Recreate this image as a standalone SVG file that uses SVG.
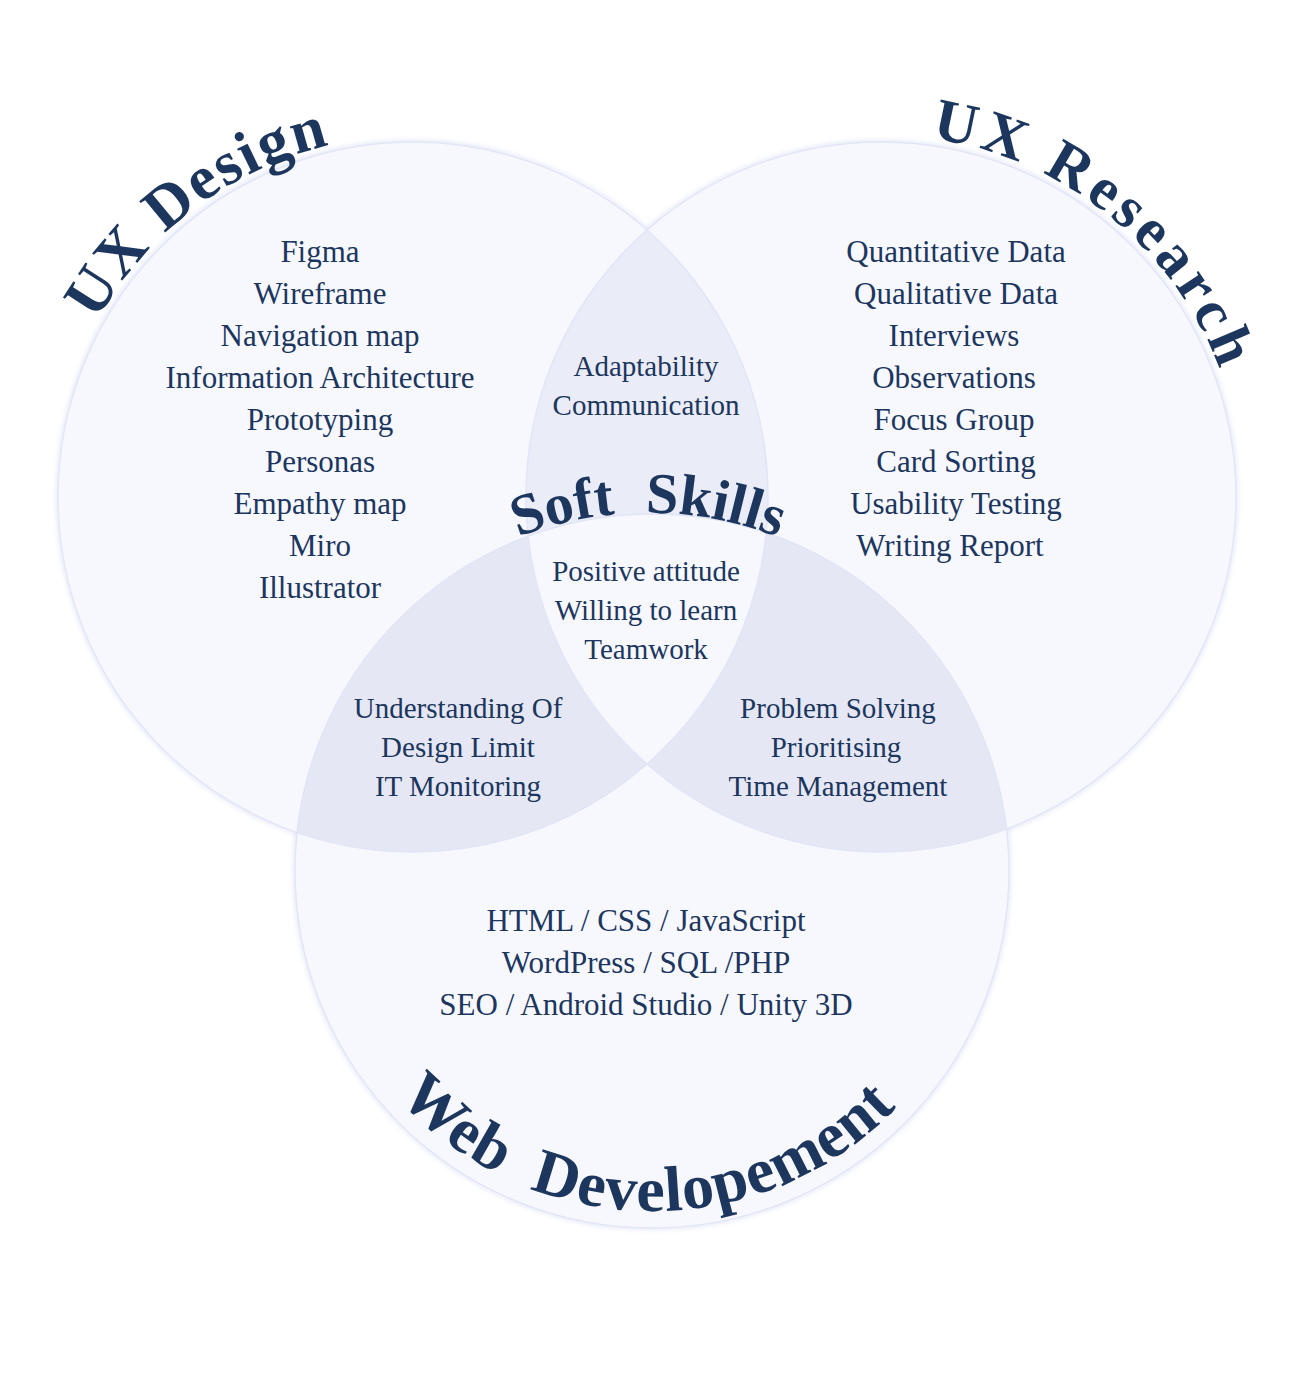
<svg xmlns="http://www.w3.org/2000/svg" width="1290" height="1384" viewBox="0 0 1290 1384">
  <defs>
    <filter id="glow" x="-10%" y="-10%" width="120%" height="120%">
      <feGaussianBlur stdDeviation="2.5"/>
    </filter>
    <path id="arcDesign" d="M 90.5 661.3 A 362 362 0 0 1 659.9 232.3"/>
    <path id="arcResearch" d="M 643.5 223.8 A 362 362 0 0 1 1197.6 672.5"/>
    <path id="arcWeb" d="M 316.2 924.2 A 340 340 0 0 0 985.8 935.9"/>
    <path id="arcSoft" d="M 295.4 808.8 A 358 358 0 0 1 1000.6 808.8"/>
  </defs>
  <style>
    .bg { fill: #f7f8fe; }
    .edge { fill: none; stroke: #c9d2f0; stroke-width: 3; }
    .line { fill: none; stroke: #e0e4f5; stroke-width: 1.5; }
    .lensTop { fill: #eaecf8; }
    .lensLow { fill: #e5e8f4; }
    .title { font-family: "Liberation Serif", "Times New Roman", serif; font-weight: bold; fill: #1c365e; }
    .item { font-family: "Liberation Serif", "Times New Roman", serif; font-size: 31px; fill: #1c365e; text-anchor: middle; }
    .small { font-family: "Liberation Serif", "Times New Roman", serif; font-size: 29px; fill: #1c365e; text-anchor: middle; }
  </style>
  <rect width="1290" height="1384" fill="#ffffff"/>

  <g id="circles">
    <g filter="url(#glow)" opacity="0.7">
      <circle class="edge" cx="413" cy="497" r="355"/>
      <circle class="edge" cx="881" cy="497" r="355"/>
      <circle class="edge" cx="652" cy="871" r="357"/>
    </g>
    <circle class="bg" cx="413" cy="497" r="355"/>
    <circle class="bg" cx="881" cy="497" r="355"/>
    <circle class="bg" cx="652" cy="871" r="357"/>
  </g>

  <g id="overlaps">
    <path class="lensTop" d="M 647 230 A 355 355 0 0 1 766.2 532.8 A 357 357 0 0 0 528.1 536.3 A 355 355 0 0 1 647 230 Z"/>
    <path class="lensLow" d="M 297 832.6 A 357 357 0 0 1 528.1 536.3 A 355 355 0 0 0 647 764 A 355 355 0 0 1 297 832.6 Z"/>
    <path class="lensLow" d="M 647 764 A 355 355 0 0 0 766.2 532.8 A 357 357 0 0 1 1006.5 829.1 A 355 355 0 0 1 647 764 Z"/>
    <g opacity="0.9">
      <circle class="line" cx="413" cy="497" r="355"/>
      <circle class="line" cx="881" cy="497" r="355"/>
      <circle class="line" cx="652" cy="871" r="357"/>
    </g>
  </g>

  <g id="ux-design">
    <text class="title" font-size="62" letter-spacing="2" text-anchor="middle"><textPath href="#arcDesign" startOffset="50%">UX Design</textPath></text>
    <text class="item" x="320" y="262">Figma</text>
    <text class="item" x="320" y="304">Wireframe</text>
    <text class="item" x="320" y="346">Navigation map</text>
    <text class="item" x="320" y="388">Information Architecture</text>
    <text class="item" x="320" y="430">Prototyping</text>
    <text class="item" x="320" y="472">Personas</text>
    <text class="item" x="320" y="514">Empathy map</text>
    <text class="item" x="320" y="556">Miro</text>
    <text class="item" x="320" y="598">Illustrator</text>
  </g>

  <g id="ux-research">
    <text class="title" font-size="60" letter-spacing="5" text-anchor="middle"><textPath href="#arcResearch" startOffset="50%">UX Research</textPath></text>
    <text class="item" x="956" y="262">Quantitative Data</text>
    <text class="item" x="956" y="304">Qualitative Data</text>
    <text class="item" x="954" y="346">Interviews</text>
    <text class="item" x="954" y="388">Observations</text>
    <text class="item" x="954" y="430">Focus Group</text>
    <text class="item" x="956" y="472">Card Sorting</text>
    <text class="item" x="956" y="514">Usability Testing</text>
    <text class="item" x="950" y="556">Writing Report</text>
  </g>

  <g id="web-development">
    <text class="title" font-size="64" letter-spacing="1" word-spacing="16" text-anchor="middle"><textPath href="#arcWeb" startOffset="50%">Web Developement</textPath></text>
    <text class="item" x="646" y="931">HTML / CSS / JavaScript</text>
    <text class="item" x="646" y="973">WordPress / SQL /PHP</text>
    <text class="item" x="646" y="1015">SEO / Android Studio / Unity 3D</text>
  </g>

  <g id="design-research-overlap">
    <text class="small" x="646" y="376">Adaptability</text>
    <text class="small" x="646" y="415">Communication</text>
  </g>

  <g id="soft-skills">
    <text class="title" font-size="58" word-spacing="16" text-anchor="middle"><textPath href="#arcSoft" startOffset="50%">Soft Skills</textPath></text>
    <text class="small" x="646" y="581">Positive attitude</text>
    <text class="small" x="646" y="620">Willing to learn</text>
    <text class="small" x="646" y="659">Teamwork</text>
  </g>

  <g id="design-web-overlap">
    <text class="small" x="458" y="718">Understanding Of</text>
    <text class="small" x="458" y="757">Design Limit</text>
    <text class="small" x="458" y="796">IT Monitoring</text>
  </g>

  <g id="research-web-overlap">
    <text class="small" x="838" y="718">Problem Solving</text>
    <text class="small" x="836" y="757">Prioritising</text>
    <text class="small" x="838" y="796">Time Management</text>
  </g>
</svg>
